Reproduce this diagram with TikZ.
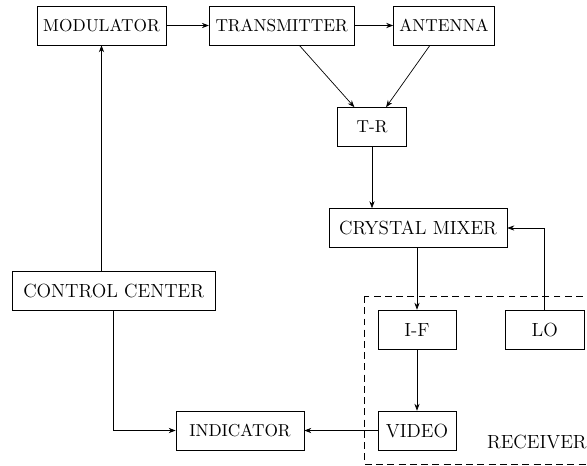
\documentclass[tikz,border=0pt]{standalone}
\usetikzlibrary{arrows.meta}
\begin{document}
\begin{tikzpicture}[x=0.578pt,y=-0.578pt,
  blk/.style={draw,minimum height=22.5pt,inner xsep=3.33pt},
  big/.style={font=\fontsize{11}{13}\selectfont},
  arr/.style={-{Stealth[length=4pt,width=3pt]}},
  recv/.style={draw,dash pattern=on 4pt off 2.5pt}]
\useasboundingbox (0,0) rectangle (587,465);
\node[blk,minimum width=129*0.578pt] (mod) at (101.5,25.5) {MODULATOR};
\node[blk,minimum width=145*0.578pt] (tx) at (281.7,25.5) {TRANSMITTER};
\node[blk,minimum width=101*0.578pt] (ant) at (444,25.5) {ANTENNA};
\node[blk,minimum width=69*0.578pt] (tr) at (372,127) {T-R};
\node[blk,big,minimum width=178*0.578pt] (mix) at (418,228) {CRYSTAL MIXER};
\node[blk,big,minimum width=78*0.578pt] (if) at (417,329.5) {I-F};
\node[blk,big,minimum width=79*0.578pt] (lo) at (544.7,329.5) {LO};
\node[blk,big,minimum width=78*0.578pt] (video) at (417,430.5) {VIDEO};
\node[blk,big,minimum width=203*0.578pt] (cc) at (113.7,291.3) {CONTROL CENTER};
\node[blk,minimum width=128*0.578pt] (ind) at (240,430.5) {INDICATOR};
\draw[recv] (364.3,296) rectangle (598,464);
\node[big,anchor=base west,inner sep=0pt] (rl) at (486.7,448) {RECEIVER};
\draw[arr] (mod) -- (tx);
\draw[arr] (tx) -- (ant);
\draw[arr] (tx) -- (tr);
\draw[arr] (ant) -- (tr);
\draw[arr] (tr.south) -- (tr.south |- mix.north);
\draw[arr] (mix.south -| if.north) -- (if.north);
\draw[arr] (lo.north) |- (mix.east);
\draw[arr] (if) -- (video);
\draw[arr] (video) -- (ind);
\draw[arr] (mod.south |- cc.north) -- (mod.south);
\draw[arr] (cc.south) |- (ind.west);
\end{tikzpicture}
\end{document}
